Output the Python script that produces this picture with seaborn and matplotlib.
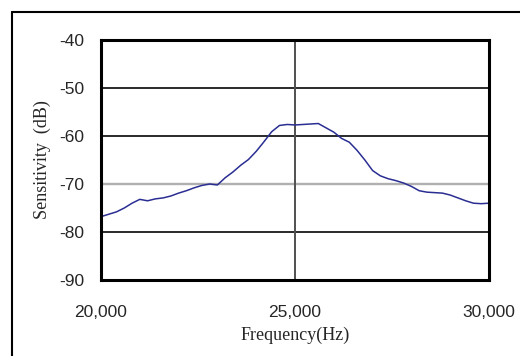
import numpy as np
import pandas as pd
import matplotlib
matplotlib.use('Agg')
import matplotlib.pyplot as plt
from matplotlib.lines import Line2D
import seaborn as sns

# frequency (Hz) and sensitivity (dB)
freq = [20000, 20200, 20400, 20600, 20800, 21000, 21200, 21400, 21600, 21800,
        22000, 22200, 22400, 22600, 22800, 23000, 23200, 23400, 23600, 23800,
        24000, 24200, 24400, 24600, 24800, 25000, 25200, 25400, 25600, 25800,
        26000, 26200, 26400, 26600, 26800, 27000, 27200, 27400, 27600, 27800,
        28000, 28200, 28400, 28600, 28800, 29000, 29200, 29400, 29600, 29800,
        30000]
sens = [-76.8, -76.3, -75.8, -75.0, -74.0, -73.2, -73.5, -73.1, -72.9, -72.5,
        -71.9, -71.4, -70.8, -70.3, -70.0, -70.2, -68.7, -67.5, -66.1, -64.9,
        -63.2, -61.2, -59.1, -57.8, -57.6, -57.7, -57.6, -57.5, -57.4, -58.3,
        -59.2, -60.5, -61.3, -63.0, -65.0, -67.2, -68.3, -68.9, -69.3, -69.8,
        -70.5, -71.4, -71.7, -71.8, -71.9, -72.3, -72.9, -73.5, -74.0, -74.1,
        -74.0]
xticks = [20000, 25000, 30000]
yticks = [-90, -80, -70, -60, -50, -40]

df = pd.DataFrame({'freq': freq, 'sens': sens})

sns.set_style('white')
fig = plt.figure(figsize=(5.2, 3.56), dpi=100)
ax = fig.add_axes([101 / 520, 1 - 280 / 356, 388 / 520, 240 / 356])

sns.lineplot(data=df, x='freq', y='sens', ax=ax, color='#2a2e92', linewidth=1.1)

ax.set_xlim(20000, 30000)
ax.set_ylim(-90, -40)
ax.set_xticks(xticks)
ax.set_xticklabels([f'{t:,}' for t in xticks], family='Liberation Sans', fontsize=12.5)
ax.set_yticks(yticks)
ax.set_yticklabels([str(t) for t in yticks], family='Liberation Sans', fontsize=12.5)
ax.tick_params(length=0)
ax.tick_params(axis='y', pad=12)
ax.tick_params(axis='x', pad=18)

# horizontal grid; the -70 line is lighter in the original
for y in [-80, -60, -50]:
    ax.axhline(y, color='#2a2a2a', linewidth=1.4, zorder=0)
ax.axhline(-70, color='#b0b0b0', linewidth=1.7, zorder=0)
ax.axvline(25000, color='#505050', linewidth=1.4, zorder=0)

for s in ax.spines.values():
    s.set_visible(True)
    s.set_color('black')
    s.set_linewidth(2.2)

ax.set_xlabel('Frequency(Hz)', family='Liberation Serif', fontsize=13, labelpad=5)
ax.set_ylabel('Sensitivity  (dB)', family='Liberation Serif', fontsize=13, labelpad=6)

# outer chart frame (cropped at right and bottom)
fig.add_artist(Line2D([12 / 520, 1.0], [1 - 12 / 356, 1 - 12 / 356],
                      transform=fig.transFigure, color='black', linewidth=1.5))
fig.add_artist(Line2D([12 / 520, 12 / 520], [0.0, 1 - 12 / 356],
                      transform=fig.transFigure, color='black', linewidth=1.5))

fig.savefig('out.png', dpi=100)
